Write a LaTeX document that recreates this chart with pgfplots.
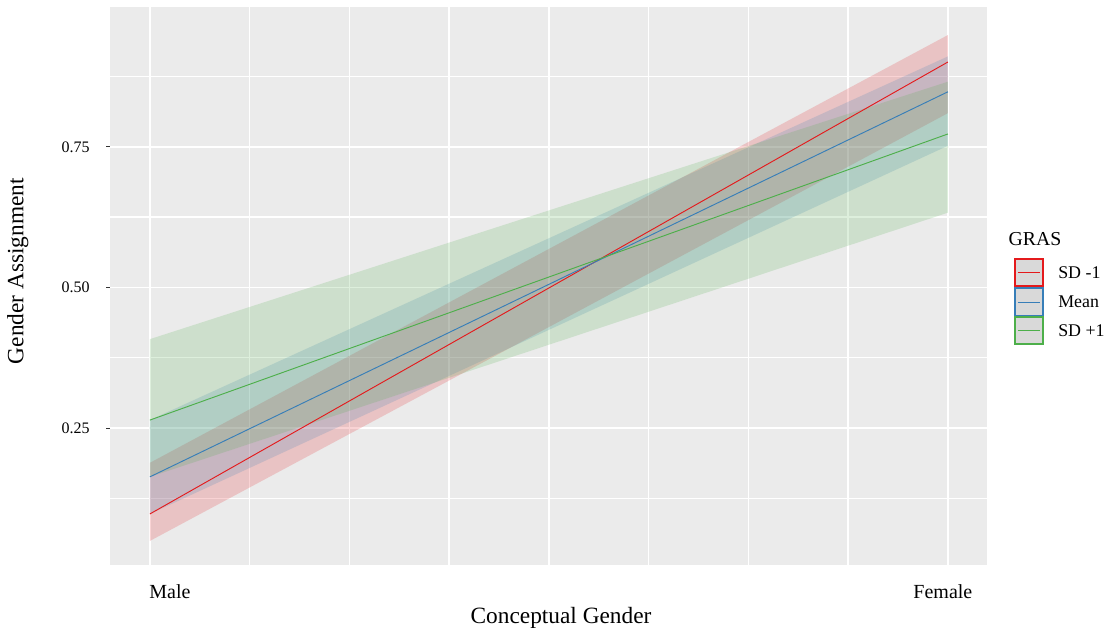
\documentclass[border=0pt]{standalone}
\usepackage{fontspec}
\setmainfont{Liberation Serif}
\usepackage{pgfplots}
\pgfplotsset{compat=1.18}

\definecolor{panel}{HTML}{EBEBEB}
\definecolor{sdlow}{HTML}{E41A1C}
\definecolor{sdmean}{HTML}{377EB8}
\definecolor{sdhigh}{HTML}{4DAF4A}
\definecolor{keygray}{HTML}{D9D9D9}
\definecolor{tickgray}{HTML}{333333}

\begin{document}
\begin{tikzpicture}
\path[use as bounding box] (0,0) rectangle (832.5pt,473.25pt);
\begin{axis}[
  at={(82.5pt,49.5pt)}, anchor=south west,
  scale only axis, width=657.75pt, height=418.125pt,
  xmin=-0.05, xmax=1.049, ymin=0.0062, ymax=0.998,
  clip=false,
  axis background/.style={fill=panel},
  axis line style={draw=none},
  xtick={0,1},
  xticklabels={{\hspace*{30pt}Male},{Female\hspace*{7.5pt}}},
  minor xtick={0.125,0.25,0.375,0.5,0.625,0.75,0.875},
  ytick={0.25,0.5,0.75},
  yticklabels={0.25,0.50,0.75},
  minor ytick={0.125,0.375,0.625,0.875},
  ytick pos=left,
  grid=both,
  major grid style={white, line width=1pt},
  minor grid style={white, line width=1pt},
  tick align=outside,
  major tick length=3pt, minor tick length=0pt,
  xtick style={draw=none},
  ytick style={tickgray, line width=0.6pt},
  /pgf/number format/assume math mode=true,
  xticklabel style={font=\fontsize{15}{15}\selectfont, anchor=base, inner sep=0pt, yshift=-22.5pt},
  yticklabel style={font=\fontsize{12}{12}\selectfont, anchor=east, inner sep=0pt, xshift=-12pt},
  xlabel={Conceptual Gender},
  xlabel style={font=\fontsize{17.5}{17.5}\selectfont, at={(axis description cs:0.5143,-0.1046)}, anchor=base, inner sep=0pt},
  ylabel={Gender Assignment},
  ylabel style={font=\fontsize{17.5}{17.5}\selectfont, at={(axis description cs:-0.0989,0.527)}, anchor=base, inner sep=0pt},
]
% confidence ribbons (lower edge left to right, upper edge right to left)
\addplot[draw=none, fill=sdlow, fill opacity=0.19]
  coordinates {(0,0.049) (1,0.810) (1,0.949) (0,0.188)} -- cycle;
\addplot[draw=none, fill=sdmean, fill opacity=0.19]
  coordinates {(0,0.097) (1,0.752) (1,0.911) (0,0.264)} -- cycle;
\addplot[draw=none, fill=sdhigh, fill opacity=0.19]
  coordinates {(0,0.163) (1,0.633) (1,0.866) (0,0.408)} -- cycle;

% predicted values
\addplot[sdlow, line width=0.7pt] coordinates {(0,0.097) (1,0.901)};
\addplot[sdmean, line width=0.7pt] coordinates {(0,0.163) (1,0.848)};
\addplot[sdhigh, line width=0.7pt] coordinates {(0,0.264) (1,0.773)};

% legend: title, then one grey key per series outlined in its colour
\node[anchor=base west, inner sep=0pt, font=\fontsize{14.8}{14.8}\selectfont]
  at (axis description cs:1.0243,0.5722) {GRAS};
\begin{scope}[font=\fontsize{13.4}{13.4}\selectfont]
\draw[sdlow, line width=0.9pt, fill=keygray]
  (axis description cs:1.0319,0.5489) rectangle (axis description cs:1.0639,0.5004);
\draw[sdlow, line width=0.7pt]
  (axis description cs:1.0353,0.5247) -- (axis description cs:1.0604,0.5247);
\node[anchor=west, inner sep=0pt] at (axis description cs:1.0810,0.5247) {SD -1};
\draw[sdmean, line width=0.9pt, fill=keygray]
  (axis description cs:1.0319,0.4969) rectangle (axis description cs:1.0639,0.4466);
\draw[sdmean, line width=0.7pt]
  (axis description cs:1.0353,0.4717) -- (axis description cs:1.0604,0.4717);
\node[anchor=west, inner sep=0pt] at (axis description cs:1.0810,0.4717) {Mean};
\draw[sdhigh, line width=0.9pt, fill=keygray]
  (axis description cs:1.0319,0.4448) rectangle (axis description cs:1.0639,0.3964);
\draw[sdhigh, line width=0.7pt]
  (axis description cs:1.0353,0.4206) -- (axis description cs:1.0604,0.4206);
\node[anchor=west, inner sep=0pt] at (axis description cs:1.0810,0.4206) {SD +1};
\end{scope}
\end{axis}
\end{tikzpicture}
\end{document}
